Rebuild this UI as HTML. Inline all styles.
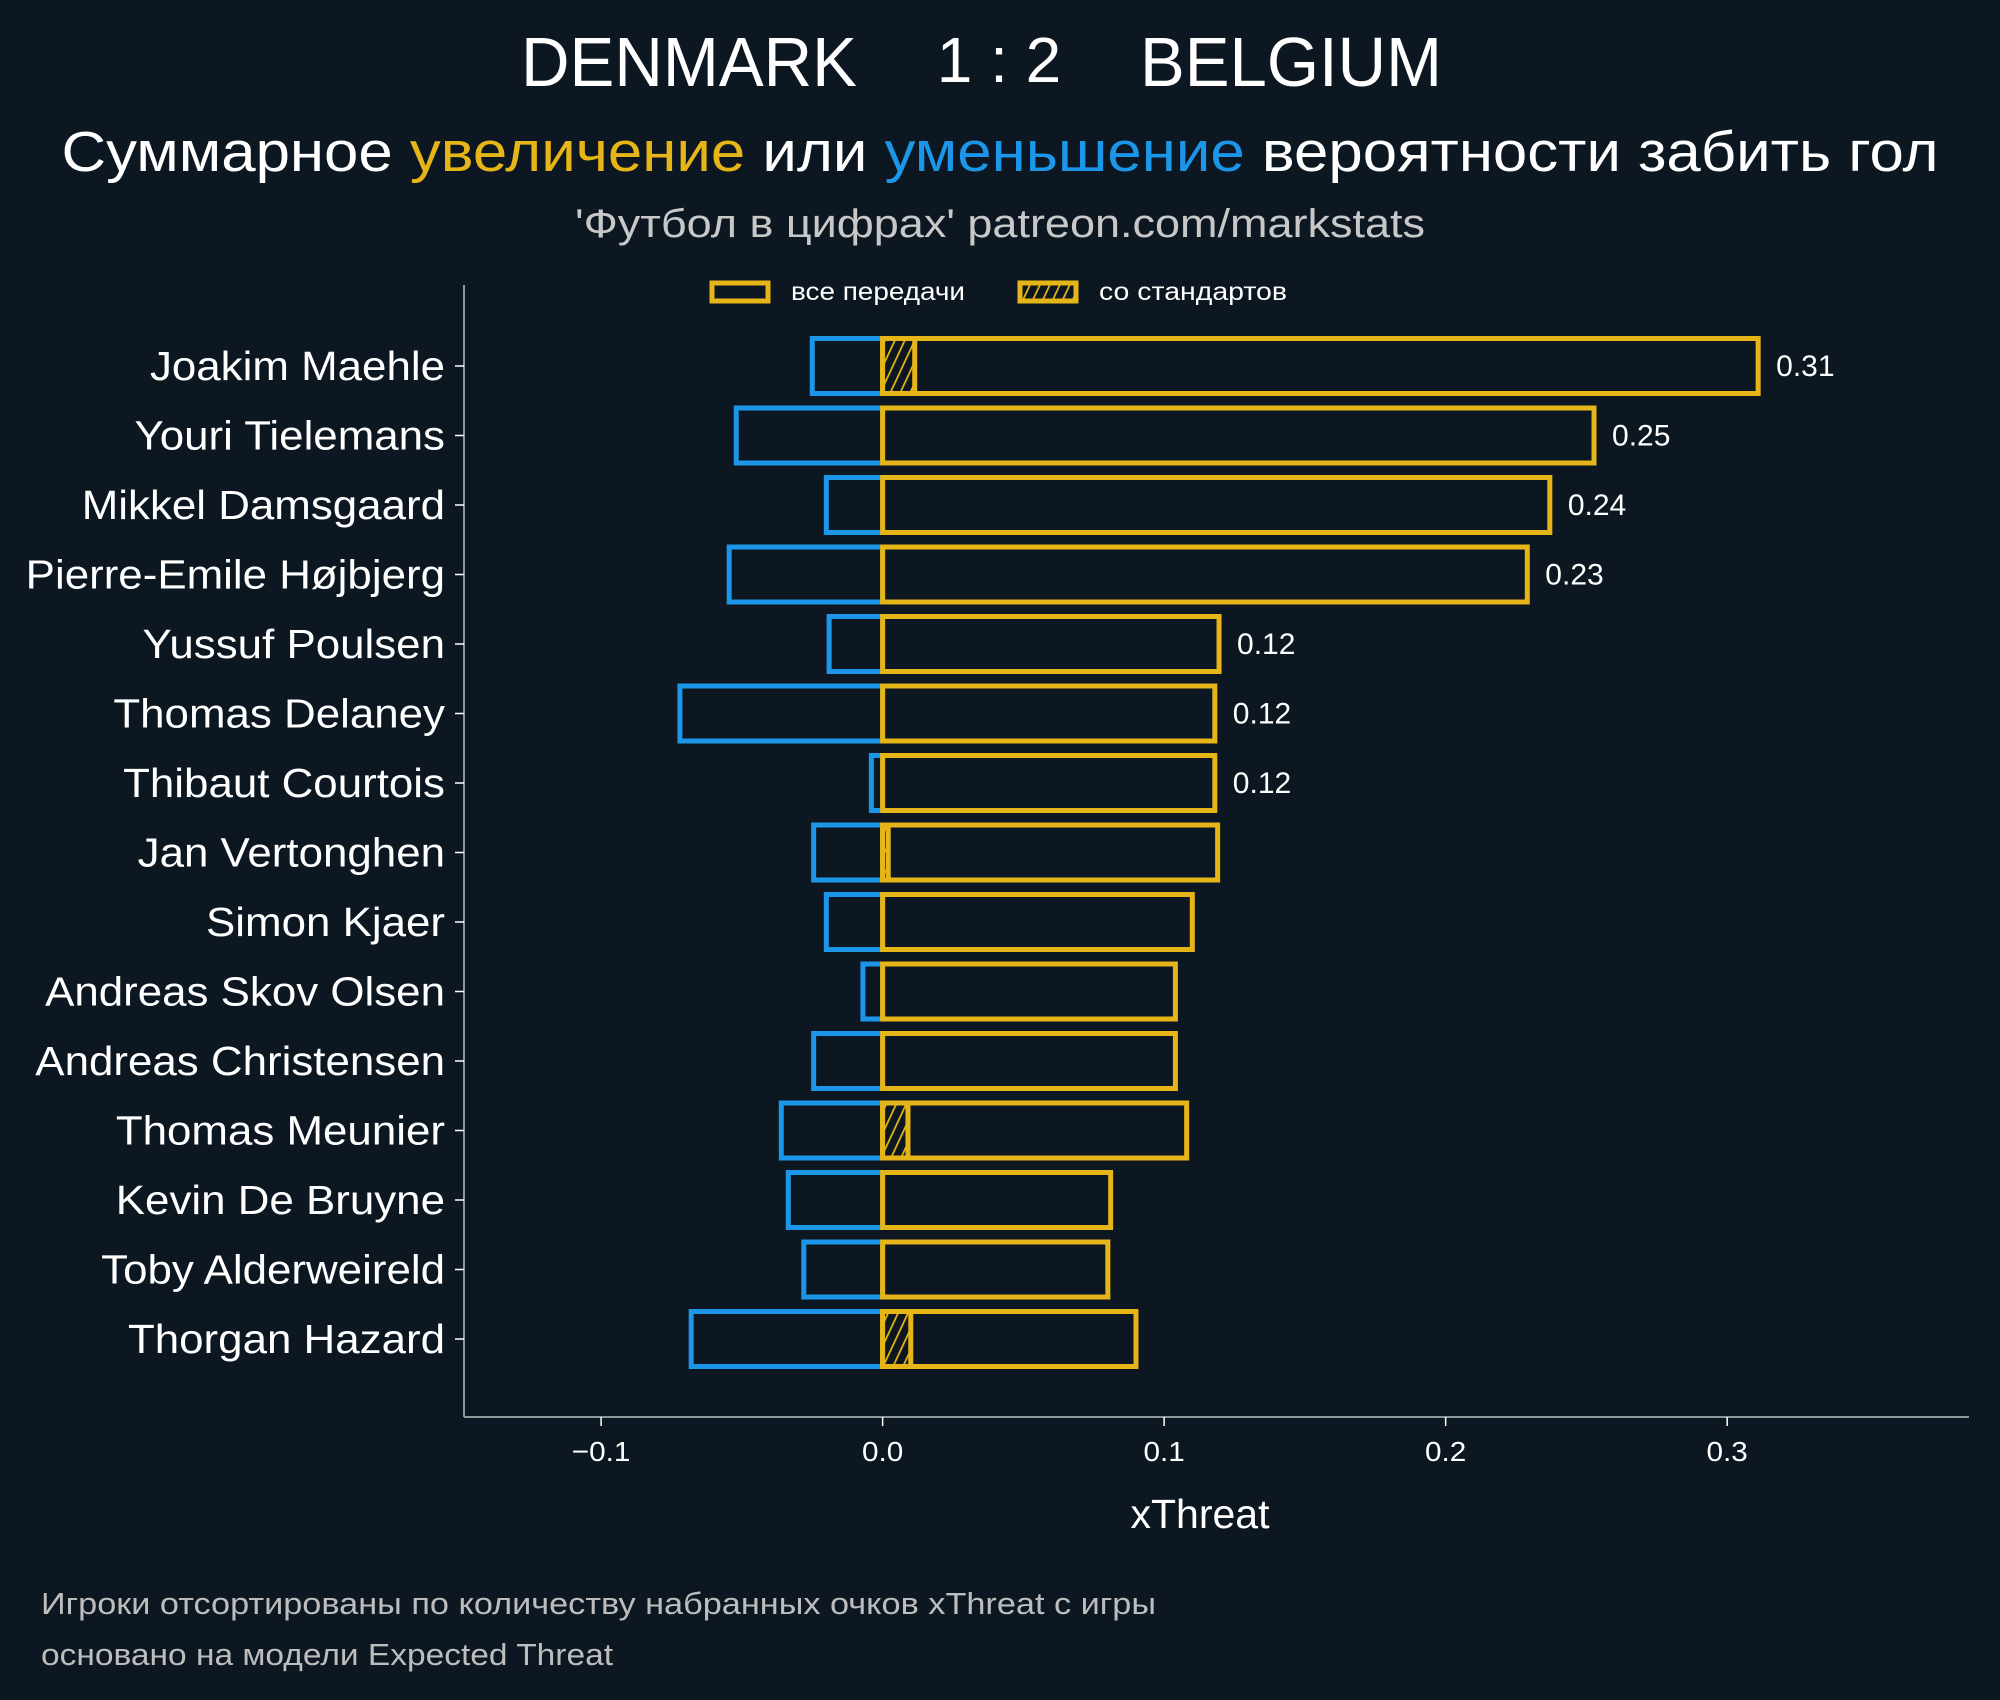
<!DOCTYPE html>
<html><head><meta charset="utf-8"><style>
html,body{margin:0;padding:0;background:#0d1721;}
svg{display:block;font-family:"Liberation Sans","DejaVu Sans",sans-serif;}
</style></head><body>
<svg id="chart" width="2000" height="1700" viewBox="0 0 2000 1700" xmlns="http://www.w3.org/2000/svg">
<defs>
<pattern id="hatch" patternUnits="userSpaceOnUse" width="9" height="10" patternTransform="rotate(25)">
<rect width="9" height="10" fill="#0d1721"/>
<line x1="0" y1="0" x2="0" y2="10" stroke="#e6b517" stroke-width="3.5"/>
</pattern>
</defs>
<rect width="2000" height="1700" fill="#0d1721"/>
<text x="689" y="86" font-size="70" fill="#fff" text-anchor="middle" textLength="336" lengthAdjust="spacingAndGlyphs">DENMARK</text>
<text x="999" y="82" font-size="64" fill="#fff" text-anchor="middle">1 : 2</text>
<text x="1291" y="86" font-size="70" fill="#fff" text-anchor="middle" textLength="302" lengthAdjust="spacingAndGlyphs">BELGIUM</text>
<text x="1000" y="171" font-size="57" fill="#fff" text-anchor="middle" textLength="1877" lengthAdjust="spacingAndGlyphs">Суммарное <tspan fill="#e6b517">увеличение</tspan> или <tspan fill="#1b96e8">уменьшение</tspan> вероятности забить гол</text>
<text x="1000" y="237" font-size="40" fill="#c8c8c8" text-anchor="middle" textLength="850" lengthAdjust="spacingAndGlyphs">'Футбол в цифрах' patreon.com/markstats</text>
<g>
<rect x="712" y="283" width="56" height="18" fill="none" stroke="#e6b517" stroke-width="5"/>
<text x="791" y="300" font-size="25" fill="#fff" textLength="174" lengthAdjust="spacingAndGlyphs">все передачи</text>
<rect x="1020" y="283" width="56" height="18" fill="url(#hatch)" stroke="#e6b517" stroke-width="5"/>
<text x="1099" y="300" font-size="25" fill="#fff" textLength="188" lengthAdjust="spacingAndGlyphs">со стандартов</text>
</g>
<g id="plot"></g>
<text x="1200" y="1528" font-size="41" fill="#fff" text-anchor="middle">xThreat</text>
<text x="41" y="1614" font-size="31" fill="#bdbdbd" textLength="1115" lengthAdjust="spacingAndGlyphs">Игроки отсортированы по количеству набранных очков xThreat с игры</text>
<text x="41" y="1665" font-size="31" fill="#bdbdbd" textLength="572" lengthAdjust="spacingAndGlyphs">основано на модели Expected Threat</text>
</svg>
<script>
const players = ["Joakim Maehle","Youri Tielemans","Mikkel Damsgaard","Pierre-Emile Højbjerg","Yussuf Poulsen","Thomas Delaney","Thibaut Courtois","Jan Vertonghen","Simon Kjaer","Andreas Skov Olsen","Andreas Christensen","Thomas Meunier","Kevin De Bruyne","Toby Alderweireld","Thorgan Hazard"];
const positive = [0.311,0.2527,0.237,0.229,0.1195,0.118,0.118,0.119,0.110,0.104,0.104,0.108,0.081,0.080,0.090];
const negative = [-0.025,-0.052,-0.020,-0.0545,-0.019,-0.072,-0.004,-0.0245,-0.020,-0.007,-0.0245,-0.036,-0.0335,-0.028,-0.068];
const setPieces = [0.0114,0,0,0,0,0,0,0.002,0,0,0,0.009,0,0,0.010];
const valueLabels = ["0.31","0.25","0.24","0.23","0.12","0.12","0.12","","","","","","","",""];
const xTicks = [-0.1,0.0,0.1,0.2,0.3];
const xTickLabels = ["−0.1","0.0","0.1","0.2","0.3"];

const NS = "http://www.w3.org/2000/svg";
const plot = document.getElementById("plot");
const L = 464, R = 1969, T = 285, B = 1417;
const xMin = -0.1487, xMax = 0.3859;
const x = v => L + (v - xMin) / (xMax - xMin) * (R - L);
const y0 = 366, step = 69.5;
const y = i => y0 + i * step;
const bh = 55;
function mk(tag, attrs){const e=document.createElementNS(NS,tag);for(const k in attrs)e.setAttribute(k,attrs[k]);plot.appendChild(e);return e;}
function widen(t, f){const w=t.getComputedTextLength();t.setAttribute("textLength",w*f);t.setAttribute("lengthAdjust","spacingAndGlyphs");}

let e = mk("line",{x1:L,y1:T,x2:L,y2:B,stroke:"#8a9a9a","stroke-width":2});


e = mk("line",{x1:L,y1:B,x2:R,y2:B,stroke:"#8a9a9a","stroke-width":2});



xTicks.forEach((t,i)=>{
  let tk = mk("line",{x1:x(t),y1:B,x2:x(t),y2:B+9,stroke:"#fff","stroke-width":1.5});
  
  
  let tl = mk("text",{x:x(t),y:B+44,"font-size":28,fill:"#fff","text-anchor":"middle"});
  tl.textContent = xTickLabels[i];
  
  
  widen(tl, 1.06);
});

players.forEach((p,i)=>{
  const cy = y(i);
  let tk = mk("line",{x1:L-9,y1:cy,x2:L,y2:cy,stroke:"#fff","stroke-width":1.5});
  
  
  let lb = mk("text",{x:445,y:cy+14,"font-size":41,fill:"#fff","text-anchor":"end"});
  lb.textContent = p;
  
  
  widen(lb, 1.07);
  let nb = mk("rect",{x:x(negative[i]),y:cy-bh/2,width:x(0)-x(negative[i]),height:bh,fill:"none",stroke:"#1b96e8","stroke-width":5});
  
  
  let pb = mk("rect",{x:x(0),y:cy-bh/2,width:x(positive[i])-x(0),height:bh,fill:"none",stroke:"#e6b517","stroke-width":5});
  
  
  if(setPieces[i]>0){
    let sb = mk("rect",{x:x(0),y:cy-bh/2,width:x(setPieces[i])-x(0),height:bh,fill:"url(#hatch)",stroke:"#e6b517","stroke-width":5});
    
    
  }
  if(valueLabels[i]){
    let vl = mk("text",{x:x(positive[i])+18,y:cy+10,"font-size":30,fill:"#fff"});
    vl.textContent = valueLabels[i];
    
    
  }
});
</script>
</body></html>
